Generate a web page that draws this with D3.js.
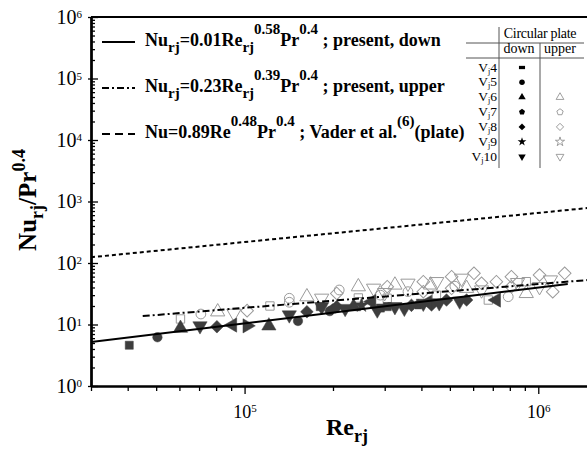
<!DOCTYPE html>
<html><head><meta charset="utf-8">
<script src="https://cdn.jsdelivr.net/npm/d3@7"></script>
<style>body{margin:0;background:#fff}svg{display:block;font-family:"Liberation Serif","Times New Roman",serif}</style>
</head><body><svg id="c" width="587" height="451"></svg>
<script>
// ---------- data ----------
const xDomain = [3e4, 1.5e6];
const yDomain = [1, 1e6];
const xMajorTicks = [1e5, 1e6];
const xMajorExp = ["5", "6"];
const yMajorTicks = [1, 10, 100, 1e3, 1e4, 1e5, 1e6];
const yMajorExp = ["0", "1", "2", "3", "4", "5", "6"];

// correlation lines (end points)
const fitDown = [[3e4, 5.2], [1.26e6, 45.6]];
const fitUpper = [[4.5e4, 13.7], [1.5e6, 53.2]];
const fitVader = [[3e4, 124], [1.5e6, 790]];

// down (filled) measurements
const downSquare = [[4.05e4, 4.6], [1.81e5, 19.5], [3.06e5, 19.5], [2.9e5, 18.5]];
const downCircle = [[5.05e4, 6.2], [1.52e5, 11.4], [1.95e5, 16.5]];
const downTriangle = [[6.05e4, 8.7], [1.21e5, 9.5], [2.35e5, 19.5]];
const downPentagon = [[2.0e5, 18.0], [3.9e5, 21.0]];
const downDiamond = [[8.05e4, 9.2], [1.63e5, 16.1], [2.06e5, 19.5], [3.7e5, 20.5], [4.33e5, 20.8], [4.87e5, 25], [5.7e5, 25]];
const downStar = [[2.5e5, 20.5]];
const downTriDown = [[7.05e4, 9.5], [1.42e5, 14.3], [1.83e5, 19.5], [2.2e5, 18.2], [2.83e5, 17.2], [3.25e5, 19.5], [3.5e5, 18.3], [4.06e5, 22.1], [4.6e5, 22.5], [5.4e5, 24]];
const downTriLeft = [[9.1e4, 9.8], [2.71e5, 23.5], [4.2e5, 23], [7.2e5, 25]];
const downTriRight = [[1.02e5, 9.5]];

// upper (open) measurements
const upperSquare = [[6.05e4, 12.3], [1.22e5, 20], [2.44e5, 23.5], [2.44e5, 27], [3.06e5, 26.7], [4.5e5, 30], [6.76e5, 25], [9.1e5, 49.7]];
const upperCircle = [[7.1e4, 14.8], [1.42e5, 26.7], [1.42e5, 23], [2.1e5, 36.4], [2.9e5, 30], [3.6e5, 34.2], [5.2e5, 42], [7.9e5, 28.3]];
const upperTriangle = [[8.1e4, 16.1], [1.63e5, 28.3], [2.44e5, 41.2], [3.25e5, 43.9], [4.3e5, 44], [5.7e5, 38.8], [9.1e5, 32]];
const upperTriDown = [[9.2e4, 15.2], [1.83e5, 26.7], [2.75e5, 38.8], [3.0e5, 33], [3.6e5, 46.8], [4.51e5, 49.7], [5.48e5, 56.4], [6.41e5, 36.4], [8.5e5, 48], [1.01e6, 41.2], [1.1e6, 52.9]];
const upperDiamond = [[1.02e5, 16.8], [2.06e5, 32], [3.06e5, 41.2], [4.06e5, 49.7], [4.06e5, 34.2], [5.07e5, 59.9], [5.07e5, 38.8], [6.04e5, 68], [6.41e5, 46.8], [7.2e5, 49.7], [8.1e5, 59.9], [8.1e5, 41.2], [1.01e6, 63.8], [1.12e6, 34.2], [1.23e6, 68]];

// legend table
const tableRows = ["4", "5", "6", "7", "8", "9", "10"];
const tableDown = ["square", "circle", "triangle", "pentagon", "diamond", "star", "tridown"];
const tableUpper = [null, null, "triangle", "pentagon", "diamond", "star", "tridown"];

// ---------- drawing ----------
const svg = d3.select("#c");
const L = 91, R = 590, T = 17, B = 386;
const x = d3.scaleLog().domain(xDomain).range([L, R]);
const y = d3.scaleLog().domain(yDomain).range([B, T]);

const FILL = "#3d3d3d", OPEN = "#9a9a9a";

const pentagon = { draw(ctx, size) {
  const r = Math.sqrt(size / 2.378);
  for (let i = 0; i < 5; i++) {
    const a = (-90 + 72 * i) * Math.PI / 180;
    const px = r * Math.cos(a), py = r * Math.sin(a);
    i ? ctx.lineTo(px, py) : ctx.moveTo(px, py);
  }
  ctx.closePath();
}};
function shapeInfo(name) {
  switch (name) {
    case "square": return [d3.symbolSquare, 0, 1];
    case "circle": return [d3.symbolCircle, 0, 1];
    case "triangle": return [d3.symbolTriangle, 0, 1.1];
    case "tridown": return [d3.symbolTriangle, 180, 1.1];
    case "trileft": return [d3.symbolTriangle, -90, 1.1];
    case "triright": return [d3.symbolTriangle, 90, 1.1];
    case "diamond": return [d3.symbolSquare, 45, 1];
    case "star": return [d3.symbolStar, 0, 1];
    case "pentagon": return [pentagon, 0, 1];
  }
}
function marks(g, data, name, filled, size) {
  const [type, rot, k] = shapeInfo(name);
  const gen = d3.symbol().type(type).size(size * k);
  g.selectAll(null).data(data).join("path")
    .attr("d", gen)
    .attr("transform", d => `translate(${x(d[0])},${y(d[1])}) rotate(${rot})`)
    .attr("fill", filled ? FILL : "none")
    .attr("stroke", filled ? FILL : OPEN)
    .attr("stroke-width", filled ? 0.5 : 1);
}

svg.append("defs").append("clipPath").attr("id", "clip")
  .append("rect").attr("x", L).attr("y", T).attr("width", R - L).attr("height", B - T);

const plot = svg.append("g").attr("clip-path", "url(#clip)");

const gOpen = plot.append("g");
marks(gOpen, upperSquare, "square", false, 70);
marks(gOpen, upperCircle, "circle", false, 75);
marks(gOpen, upperTriangle, "triangle", false, 80);
marks(gOpen, upperTriDown, "tridown", false, 80);
marks(gOpen, upperDiamond, "diamond", false, 80);

const gFill = plot.append("g");
marks(gFill, downSquare, "square", true, 65);
marks(gFill, downCircle, "circle", true, 70);
marks(gFill, downTriangle, "triangle", true, 80);
marks(gFill, downPentagon, "pentagon", true, 65);
marks(gFill, downDiamond, "diamond", true, 80);
marks(gFill, downStar, "star", true, 65);
marks(gFill, downTriDown, "tridown", true, 80);
marks(gFill, downTriLeft, "trileft", true, 80);
marks(gFill, downTriRight, "triright", true, 80);

const line = d3.line().x(d => x(d[0])).y(d => y(d[1]));
plot.append("path").datum(fitDown).attr("d", line).attr("fill", "none")
  .attr("stroke", "#000").attr("stroke-width", 2);
plot.append("path").datum(fitUpper).attr("d", line).attr("fill", "none")
  .attr("stroke", "#000").attr("stroke-width", 2).attr("stroke-dasharray", "7,3,2,3");
plot.append("path").datum(fitVader).attr("d", line).attr("fill", "none")
  .attr("stroke", "#000").attr("stroke-width", 2).attr("stroke-dasharray", "4,3");

svg.append("line").attr("x1", L).attr("x2", R).attr("y1", T).attr("y2", T)
  .attr("stroke", "#000").attr("stroke-width", 2);

// ---------- axes ----------
function minorTicks(domain) {
  const out = [];
  for (let e = Math.floor(Math.log10(domain[0])); e <= Math.ceil(Math.log10(domain[1])); e++)
    for (let m = 1; m <= 9; m++) {
      const v = m * Math.pow(10, e);
      if (v >= domain[0] - 1e-9 && v <= domain[1] + 1e-9) out.push(v);
    }
  return out;
}
const xMinor = minorTicks(xDomain).filter(v => !xMajorTicks.includes(v));
const yMinor = minorTicks(yDomain).filter(v => !yMajorTicks.includes(v));

const gxMinor = svg.append("g").attr("transform", `translate(0,${B})`)
  .call(d3.axisBottom(x).tickValues(xMinor).tickSize(5).tickSizeOuter(0).tickFormat(""));
const gxMajor = svg.append("g").attr("transform", `translate(0,${B})`)
  .call(d3.axisBottom(x).tickValues(xMajorTicks).tickSize(8).tickSizeOuter(0).tickFormat(() => "10"));
const gyMinor = svg.append("g").attr("transform", `translate(${L},0)`)
  .call(d3.axisLeft(y).tickValues(yMinor).tickSize(-4).tickSizeOuter(0).tickFormat(""));
const gyMajor = svg.append("g").attr("transform", `translate(${L},0)`)
  .call(d3.axisLeft(y).tickValues(yMajorTicks).tickSize(-7).tickPadding(9).tickSizeOuter(0).tickFormat(() => "10"));
const gyOut = svg.append("g").attr("transform", `translate(${L},0)`)
  .call(d3.axisLeft(y).tickValues(yMajorTicks).tickSize(3).tickSizeOuter(0).tickFormat(""));

[gxMinor, gxMajor, gyMinor, gyMajor, gyOut].forEach(g => {
  g.selectAll(".domain").attr("stroke", "#000").attr("stroke-width", 2);
  g.selectAll(".tick line").attr("stroke", "#000").attr("stroke-width", 1.3);
});

gxMajor.selectAll(".tick text")
  .attr("font-family", "Liberation Serif").attr("font-size", 18).attr("fill", "#000")
  .attr("y", 19).attr("dy", "0.71em")
  .each(function (d, i) {
    d3.select(this).append("tspan").attr("font-size", 11).attr("dy", "-0.55em").text(xMajorExp[i]);
  });
gyMajor.selectAll(".tick text")
  .attr("font-family", "Liberation Serif").attr("font-size", 20).attr("fill", "#000")
  .attr("x", -9).attr("text-anchor", "end")
  .each(function (d, i) {
    d3.select(this).append("tspan").attr("font-size", 11).attr("dy", "-0.5em").text(yMajorExp[i]);
  });

// ---------- rich text helper ----------
function rich(parent, xPos, yPos, parts, opts) {
  const t = parent.append("text").attr("x", xPos).attr("y", yPos)
    .attr("font-family", "Liberation Serif").attr("font-weight", opts.weight || "bold")
    .attr("font-size", opts.size).attr("fill", "#000");
  if (opts.anchor) t.attr("text-anchor", opts.anchor);
  if (opts.transform) t.attr("transform", opts.transform);
  let cur = 0;
  parts.forEach(([txt, kind]) => {
    let target = 0, fs = opts.size;
    if (kind === "sub") { target = opts.subDy; fs = opts.small; }
    if (kind === "sup") { target = -opts.supDy; fs = opts.small; }
    t.append("tspan").attr("dy", target - cur).attr("font-size", fs)
      .style("white-space", "pre").text(txt);
    cur = target;
  });
  return t;
}

// ---------- axis titles ----------
rich(svg, 347, 435, [["Re", ""], ["rj", "sub"]], { size: 24, small: 18, subDy: 7, supDy: 10, anchor: "middle" });
rich(svg, 0, 0, [["Nu", ""], ["rj", "sub"], ["/Pr", ""], ["0.4", "sup"]],
  { size: 25, small: 18, subDy: 7, supDy: 11, anchor: "middle", transform: "translate(36,200) rotate(-90)" });

// ---------- legend ----------
const leg = svg.append("g");
const legY = [42, 88, 134];
const legDash = [null, "7,3,2,3", "8,5"];
legY.forEach((yy, i) => {
  const l = leg.append("line").attr("x1", 102).attr("x2", 135).attr("y1", yy).attr("y2", yy)
    .attr("stroke", "#000").attr("stroke-width", 2);
  if (legDash[i]) l.attr("stroke-dasharray", legDash[i]);
});
const lo = { size: 18, small: 15, subDy: 6, supDy: 12 };
rich(leg, 145, 46, [["Nu", ""], ["rj", "sub"], ["=0.01Re", ""], ["rj", "sub"], ["0.58", "sup"], ["Pr", ""], ["0.4", "sup"], [" ; present, down", ""]], lo);
rich(leg, 145, 92, [["Nu", ""], ["rj", "sub"], ["=0.23Re", ""], ["rj", "sub"], ["0.39", "sup"], ["Pr", ""], ["0.4", "sup"], [" ; present, upper", ""]], lo);
rich(leg, 145, 138, [["Nu=0.89Re", ""], ["0.48", "sup"], ["Pr", ""], ["0.4", "sup"], [" ; Vader et al.", ""], ["(6)", "sup"], ["(plate)", ""]], lo);

// ---------- table ----------
const tb = svg.append("g");
const TC = "#555";
tb.append("line").attr("x1", 499).attr("x2", 499).attr("y1", 27).attr("y2", 168).attr("stroke", TC);
tb.append("line").attr("x1", 540).attr("x2", 540).attr("y1", 43).attr("y2", 168).attr("stroke", TC);
tb.append("line").attr("x1", 466).attr("x2", 584).attr("y1", 43).attr("y2", 43).attr("stroke", TC);
tb.append("line").attr("x1", 466).attr("x2", 584).attr("y1", 58).attr("y2", 58).attr("stroke", TC);
tb.append("text").attr("x", 540).attr("y", 38).attr("text-anchor", "middle")
  .attr("font-family", "Liberation Serif").attr("font-size", 14).attr("letter-spacing", -0.3).text("Circular plate");
tb.append("text").attr("x", 519).attr("y", 53).attr("text-anchor", "middle")
  .attr("font-family", "Liberation Serif").attr("font-size", 14).text("down");
tb.append("text").attr("x", 560).attr("y", 53).attr("text-anchor", "middle")
  .attr("font-family", "Liberation Serif").attr("font-size", 14).text("upper");
const rowY = i => 67.5 + i * 14.85;
tableRows.forEach((r, i) => {
  rich(tb, 497, rowY(i) + 4, [["V", ""], ["j", "sub"], [r, ""]],
    { size: 13.5, small: 8, subDy: 2, supDy: 0, anchor: "end", weight: "normal" });
  const dn = shapeInfo(tableDown[i]);
  tb.append("path").attr("d", d3.symbol().type(dn[0]).size(tableDown[i] === "square" ? 22 : 24)())
    .attr("transform", `translate(522,${rowY(i)}) rotate(${dn[1]})` + (tableDown[i] === "square" ? " scale(1.3,0.7)" : ""))
    .attr("fill", "#000");
  if (tableUpper[i]) {
    const up = shapeInfo(tableUpper[i]);
    tb.append("path").attr("d", d3.symbol().type(up[0]).size(26)())
      .attr("transform", `translate(560,${rowY(i)}) rotate(${up[1]})`)
      .attr("fill", "none").attr("stroke", "#888").attr("stroke-width", 0.8);
  }
});
</script></body></html>
